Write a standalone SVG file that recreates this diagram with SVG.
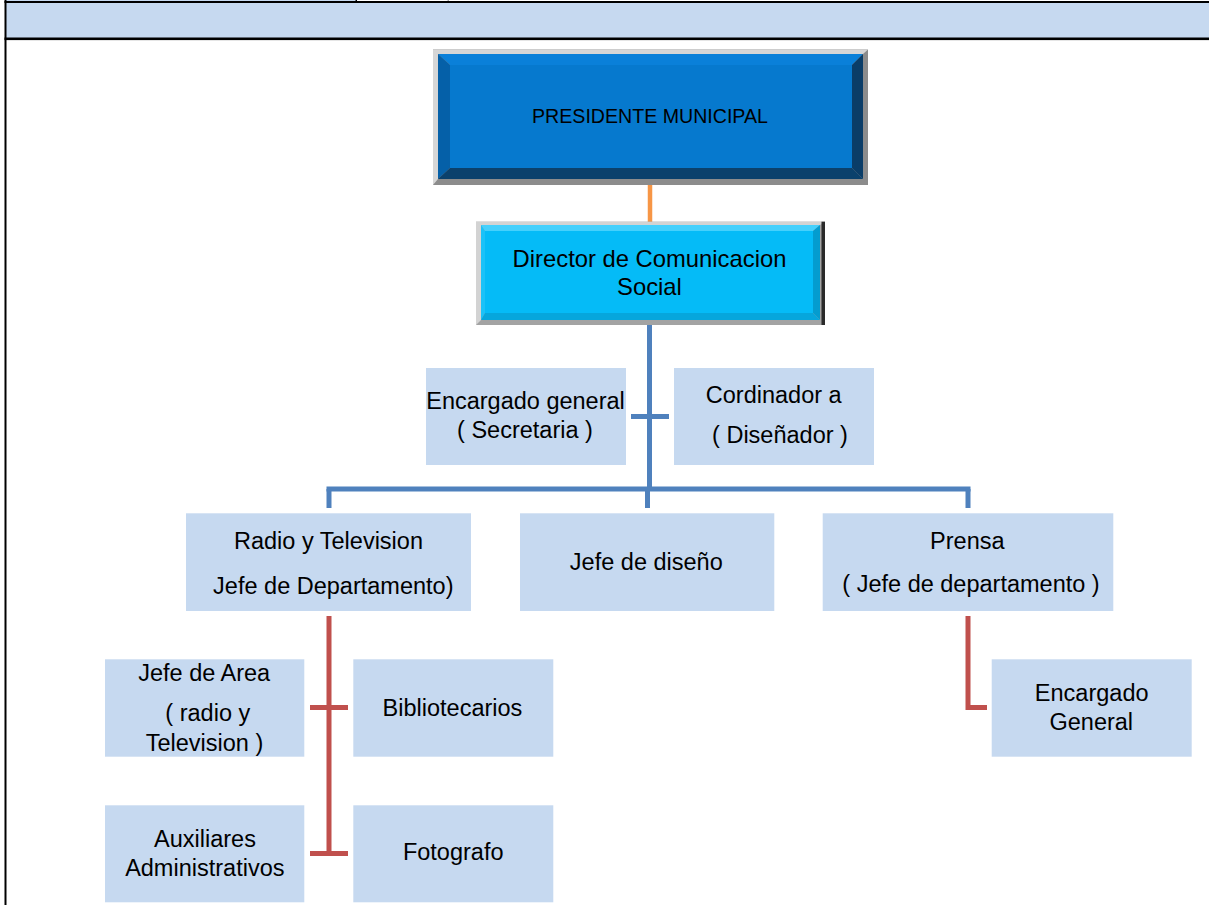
<svg xmlns="http://www.w3.org/2000/svg" width="1209" height="905" viewBox="0 0 1209 905">
  <style>
    .lbl { font-family: "Liberation Sans", Arial, sans-serif; font-size: 23.5px; fill: #000; text-anchor: middle; }
    .box { fill: #C6D9F0; }
    .blue { stroke: #4F81BD; stroke-width: 5; fill: none; }
    .red { stroke: #C0504D; stroke-width: 5; fill: none; }
    .orange { stroke: #F79646; stroke-width: 4.5; fill: none; }
  </style>

  <!-- page frame and header band -->
  <g id="frame">
    <rect x="6" y="0" width="350" height="1.2" fill="#C6D9F0"/>
    <rect x="355.5" y="0" width="1.5" height="3" fill="#000"/>
    <rect x="447.5" y="0" width="1.5" height="2" fill="#A6A6A6"/>
    <rect x="6" y="3" width="1203" height="35" fill="#C6D9F0"/>
    <rect x="4.5" y="1" width="1204.5" height="2" fill="#000"/>
    <rect x="4.5" y="37.5" width="1204.5" height="2.6" fill="#000"/>
    <rect x="4.5" y="0" width="2" height="905" fill="#000"/>
  </g>

  <!-- connectors -->
  <g id="connectors">
    <line class="orange" x1="650" y1="185" x2="650" y2="222"/>
    <line class="blue" x1="649.5" y1="325" x2="649.5" y2="489"/>
    <line class="blue" x1="631" y1="416.5" x2="669" y2="416.5"/>
    <line class="blue" x1="326.5" y1="489" x2="970.5" y2="489"/>
    <line class="blue" x1="329" y1="489" x2="329" y2="508"/>
    <line class="blue" x1="647.5" y1="489" x2="647.5" y2="508"/>
    <line class="blue" x1="968" y1="489" x2="968" y2="508"/>
    <line class="red" x1="329" y1="616" x2="329" y2="856"/>
    <line class="red" x1="310" y1="707.5" x2="348" y2="707.5"/>
    <line class="red" x1="310" y1="853.5" x2="348" y2="853.5"/>
    <polyline class="red" points="968,616 968,707.5 987,707.5"/>
  </g>

  <!-- top node: bevelled dark blue button -->
  <g id="presidente">
    <rect x="433" y="49.5" width="435" height="135.5" fill="#8C8C8C"/>
    <polygon points="433,49.5 868,49.5 863,54 438,54 438,179 433,185" fill="#D6D6D6"/>
    <polygon points="438,54 863,54 852,65 450,65" fill="#0A80D9"/>
    <polygon points="438,54 450,65 450,168 438,179" fill="#0560A8"/>
    <polygon points="863,54 863,179 852,168 852,65" fill="#0A3D68"/>
    <polygon points="438,179 863,179 852,168 450,168" fill="#0B416C"/>
    <rect x="450" y="65" width="402" height="103" fill="#0679CE"/>
    <text class="lbl" x="650" y="123" style="font-size:19.6px">PRESIDENTE MUNICIPAL</text>
  </g>

  <!-- second node: bevelled cyan button -->
  <g id="director">
    <rect x="476" y="221.7" width="349" height="103.3" fill="#A3A3A3"/>
    <polygon points="476,221.7 825,221.7 820,225 481,225 481,320 476,325" fill="#D3D3D3"/>
    <rect x="821.5" y="221.7" width="3.5" height="103.3" fill="#2A2A2A"/>
    <polygon points="481,225 820,225 813,231 485,231" fill="#45D0FC"/>
    <polygon points="481,225 485,231 485,313 481,320" fill="#1BC2F8"/>
    <polygon points="820,225 820,320 813,313 813,231" fill="#049CCF"/>
    <polygon points="481,320 820,320 813,313 485,313" fill="#06A6DC"/>
    <rect x="485" y="231" width="328" height="82" fill="#05BBF7"/>
    <text class="lbl" x="649.5" y="267" style="font-size:23.8px">Director de Comunicacion</text>
    <text class="lbl" x="649.5" y="295" style="font-size:23.8px">Social</text>
  </g>

  <g id="encargado-general">
    <rect class="box" x="426" y="368" width="200" height="97"/>
    <text class="lbl" x="525.5" y="409">Encargado general</text>
    <text class="lbl" x="525" y="438">( Secretaria )</text>
  </g>

  <g id="cordinador">
    <rect class="box" x="674" y="368" width="200" height="97"/>
    <text class="lbl" x="773.7" y="403.3">Cordinador a</text>
    <text class="lbl" x="780" y="443.3">( Diseñador )</text>
  </g>

  <g id="radio-television">
    <rect class="box" x="186" y="513.3" width="285" height="97.7"/>
    <text class="lbl" x="328.5" y="549.3">Radio y Television</text>
    <text class="lbl" x="333.3" y="594.3">Jefe de Departamento)</text>
  </g>

  <g id="jefe-diseno">
    <rect class="box" x="520" y="513.3" width="254.3" height="97.7"/>
    <text class="lbl" x="646.3" y="570">Jefe de diseño</text>
  </g>

  <g id="prensa">
    <rect class="box" x="822.7" y="513.3" width="290.6" height="97.7"/>
    <text class="lbl" x="967.3" y="549">Prensa</text>
    <text class="lbl" x="971" y="592">( Jefe de departamento )</text>
  </g>

  <g id="jefe-area">
    <rect class="box" x="105" y="659.3" width="199.3" height="97.4"/>
    <text class="lbl" x="204.2" y="681">Jefe de Area</text>
    <text class="lbl" x="207.8" y="720.7">( radio y</text>
    <text class="lbl" x="204.5" y="750.7">Television )</text>
  </g>

  <g id="bibliotecarios">
    <rect class="box" x="353.3" y="659.3" width="200" height="97.4"/>
    <text class="lbl" x="452.5" y="715.7">Bibliotecarios</text>
  </g>

  <g id="auxiliares">
    <rect class="box" x="105" y="805.3" width="199.3" height="97"/>
    <text class="lbl" x="205" y="846.7">Auxiliares</text>
    <text class="lbl" x="204.8" y="875.7">Administrativos</text>
  </g>

  <g id="fotografo">
    <rect class="box" x="353.3" y="805.3" width="200" height="97"/>
    <text class="lbl" x="453.2" y="860">Fotografo</text>
  </g>

  <g id="encargado-prensa">
    <rect class="box" x="991.7" y="659.3" width="200" height="97.4"/>
    <text class="lbl" x="1091.7" y="700.7">Encargado</text>
    <text class="lbl" x="1091.3" y="730">General</text>
  </g>
</svg>
